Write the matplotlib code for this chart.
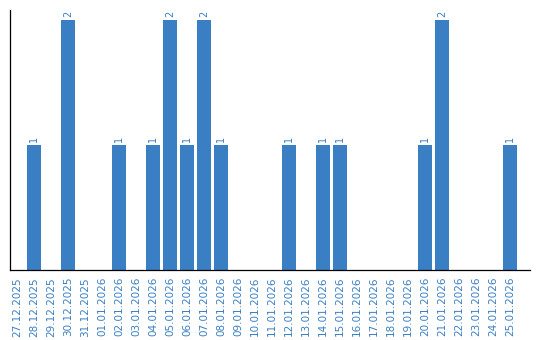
import matplotlib
matplotlib.use('Agg')
import matplotlib.pyplot as plt

# Daily counts
dates = ['27.12.2025', '28.12.2025', '29.12.2025', '30.12.2025', '31.12.2025',
         '01.01.2026', '02.01.2026', '03.01.2026', '04.01.2026', '05.01.2026',
         '06.01.2026', '07.01.2026', '08.01.2026', '09.01.2026', '10.01.2026',
         '11.01.2026', '12.01.2026', '13.01.2026', '14.01.2026', '15.01.2026',
         '16.01.2026', '17.01.2026', '18.01.2026', '19.01.2026', '20.01.2026',
         '21.01.2026', '22.01.2026', '23.01.2026', '24.01.2026', '25.01.2026']
counts = [0, 1, 0, 2, 0,
          0, 1, 0, 1, 2,
          1, 2, 1, 0, 0,
          0, 1, 0, 1, 1,
          0, 0, 0, 0, 1,
          2, 0, 0, 0, 1]

blue = '#3a7fc4'

fig = plt.figure(figsize=(5.4, 3.4), dpi=100)
ax = fig.add_axes([0.0194, 0.206, 0.963, 0.765])

x = range(len(dates))
bars = ax.bar(x, counts, width=0.82, color=blue)

# value labels above the non-empty bars
for xi, v in zip(x, counts):
    if v > 0:
        ax.text(xi, v + 0.02, str(v), rotation=90, ha='center', va='bottom',
                fontsize=7, color=blue)

ax.set_xlim(-0.38, 30.2)
ax.set_ylim(0, 2.08)
ax.set_xticks(list(x))
ax.set_xticklabels(dates, rotation=90, fontsize=7.5, color=blue)
ax.tick_params(axis='x', length=0, pad=5)
ax.set_yticks([])

for side in ['top', 'right']:
    ax.spines[side].set_visible(False)
ax.spines['left'].set_linewidth(0.9)
ax.spines['bottom'].set_linewidth(0.9)

fig.savefig('out.png', dpi=100)
